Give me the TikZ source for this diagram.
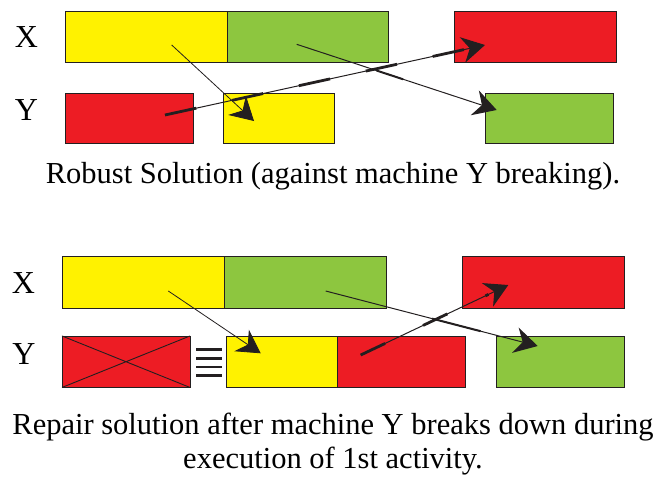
\documentclass[tikz,border=0pt]{standalone}
\usepackage{fontspec}
\setmainfont{Liberation Serif}
\usetikzlibrary{arrows.meta}
\definecolor{cyel}{HTML}{FFF200}
\definecolor{cgrn}{HTML}{8DC63F}
\definecolor{cred}{HTML}{ED1C24}
\definecolor{cdark}{HTML}{231F20}
\begin{document}
\begin{tikzpicture}[x=1pt,y=-1pt,
  box/.style={draw=cdark,line width=0.9pt,inner sep=0pt,outer sep=0pt,rectangle},
  rowlab/.style={font=\fontsize{32}{36}\selectfont,inner sep=0pt},
  caption/.style={font=\fontsize{30.5}{34}\selectfont,inner sep=0pt,align=center},
  arr/.style={draw=cdark,line width=0.8pt,-{Stealth[length=23pt,width=26pt,inset=7.5pt]}},
  thickseg/.style={draw=cdark,line width=2.8pt},
  bar/.style={draw=cdark,line width=2.7pt}
]
\useasboundingbox (0,0) rectangle (666,480);
% ---------- top panel ----------
\node[rowlab] (lx1) at (26.5,37) {X};
\node[rowlab] (ly1) at (26.5,110) {Y};
\node[box,fill=cyel,minimum width=162pt,minimum height=50.5pt] (xy1) at (146,37) {};
\node[box,fill=cgrn,minimum width=161pt,minimum height=50.5pt] (xg1) at (307.5,37) {};
\node[box,fill=cred,minimum width=162pt,minimum height=50.5pt] (xr1) at (535,37) {};
\node[box,fill=cred,minimum width=128pt,minimum height=50.5pt] (yr1) at (129,118.3) {};
\node[box,fill=cyel,minimum width=111pt,minimum height=50.5pt] (yy1) at (278.5,118.3) {};
\node[box,fill=cgrn,minimum width=128pt,minimum height=50.5pt] (yg1) at (549,118.3) {};
\coordinate (ys1) at (171.7,45);
\coordinate (ye1) at (254,121);
\coordinate (gs1) at (296.7,44.3);
\coordinate (ge1) at (496.7,110);
\coordinate (rs1) at (165,115);
\coordinate (re1) at (485,45);
\draw[arr] (ys1) -- (ye1);
\draw[arr,line width=1pt] (gs1) -- (ge1);
\draw[draw=cdark,line width=2pt,dash pattern=on 0pt off 84pt on 28pt off 300pt] (gs1) -- (ge1);
\draw[arr,line width=1pt] (rs1) -- (re1);
\draw[thickseg,dash pattern=on 32pt off 36.5pt,shorten >=20pt] (rs1) -- (re1);
\node[caption] (cap1) at (333,176) {Robust Solution (against machine Y breaking).};
% ---------- bottom panel ----------
\node[rowlab] (lx2) at (23.5,283) {X};
\node[rowlab] (ly2) at (24,354) {Y};
\node[box,fill=cyel,minimum width=162pt,minimum height=51.5pt] (xy2) at (143,282.5) {};
\node[box,fill=cgrn,minimum width=162pt,minimum height=51.5pt] (xg2) at (305,282.5) {};
\node[box,fill=cred,minimum width=162pt,minimum height=51.5pt] (xr2) at (543,282.5) {};
\node[box,fill=cred,minimum width=128pt,minimum height=51.5pt] (yx2) at (126,361.7) {};
\draw[cdark,line width=0.9pt] (yx2.north west) -- (yx2.south east) (yx2.south west) -- (yx2.north east);
\node[box,fill=cyel,minimum width=110.6pt,minimum height=51.5pt] (yy2) at (282,361.7) {};
\node[box,fill=cred,minimum width=127.7pt,minimum height=51.5pt] (yr2) at (401.2,361.7) {};
\node[box,fill=cgrn,minimum width=128pt,minimum height=51.5pt] (yg2) at (560,361.7) {};
\coordinate (eqa) at (196,349.5); \coordinate (eqb) at (221.7,349.5);
\coordinate (eqc) at (196,358.3); \coordinate (eqd) at (221.7,358.3);
\coordinate (eqe) at (196,367); \coordinate (eqf) at (221.7,367);
\coordinate (eqg) at (196,375.8); \coordinate (eqh) at (221.7,375.8);
\draw[bar] (eqa) -- (eqb) (eqc) -- (eqd) (eqe) -- (eqf) (eqg) -- (eqh);
\coordinate (ys2) at (168.3,291);
\coordinate (ye2) at (260.7,353.3);
\coordinate (gs2) at (325.7,291);
\coordinate (ge2) at (537.7,346);
\coordinate (rs2) at (360.7,355);
\coordinate (re2) at (508.3,285);
\draw[arr] (ys2) -- (ye2);
\draw[arr,line width=1pt] (gs2) -- (ge2);
\draw[draw=cdark,line width=2pt,dash pattern=on 0pt off 110pt on 50pt off 300pt] (gs2) -- (ge2);
\draw[arr,line width=1pt] (rs2) -- (re2);
\draw[thickseg,dash pattern=on 27pt off 42pt,shorten >=22pt] (rs2) -- (re2);
\node[caption] (cap2a) at (333,427) {Repair solution after machine Y breaks down during};
\node[caption] (cap2b) at (333,461) {execution of 1st activity.};
\end{tikzpicture}
\end{document}
